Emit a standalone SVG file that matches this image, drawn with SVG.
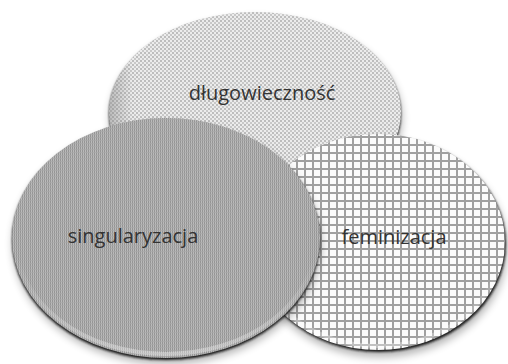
<svg xmlns="http://www.w3.org/2000/svg" width="508" height="364" viewBox="0 0 508 364">
  <defs>
    <!-- fill textures -->
    <pattern id="weave" width="4" height="4" patternUnits="userSpaceOnUse">
      <rect width="4" height="4" fill="#ececec"/>
      <rect x="0" y="0" width="2" height="2" fill="#bdbdbd"/>
      <rect x="2" y="2" width="2" height="2" fill="#c8c8c8"/>
    </pattern>
    <pattern id="stripes" width="2" height="3" patternUnits="userSpaceOnUse">
      <rect width="2" height="3" fill="#bababa"/>
      <rect x="0" y="0" width="1" height="3" fill="#959595"/>
      <rect x="0" y="2" width="2" height="1" fill="#a8a8a8" opacity="0.7"/>
    </pattern>
    <pattern id="grid" width="8" height="8" patternUnits="userSpaceOnUse">
      <rect width="8" height="8" fill="#fbfbfb"/>
      <rect x="0" y="0" width="8" height="2" fill="#a0a0a0"/>
      <rect x="0" y="0" width="2" height="8" fill="#a0a0a0"/>
    </pattern>
    <!-- bevel highlight along the lower rim -->
    <linearGradient id="rimLight" x1="0" y1="0" x2="0" y2="1">
      <stop offset="0.6" stop-color="#fff" stop-opacity="0"/>
      <stop offset="1" stop-color="#fff" stop-opacity="0.35"/>
    </linearGradient>
    <linearGradient id="edgeShade" x1="0" y1="0" x2="1" y2="0">
      <stop offset="0" stop-color="#888" stop-opacity="0.5"/>
      <stop offset="0.08" stop-color="#888" stop-opacity="0"/>
    </linearGradient>
    <filter id="shadow" x="-20%" y="-20%" width="140%" height="150%">
      <feGaussianBlur stdDeviation="4"/>
    </filter>
    <filter id="soft" x="-5%" y="-5%" width="110%" height="115%">
      <feGaussianBlur stdDeviation="0.8"/>
    </filter>
    <style>
      .label { font-family: "Open Sans", "Liberation Sans", sans-serif; font-size: 20px; fill: #333; text-anchor: middle; }
      .rim { fill: #1c1c1c; filter: url(#soft); }
      .drop { fill: #000; opacity: 0.3; filter: url(#shadow); }
      .glint { fill: none; stroke: url(#rimLight); stroke-width: 4; }
    </style>
  </defs>

  <!-- back ellipse -->
  <g id="dlugowiecznosc">
    <ellipse class="drop" cx="256" cy="118" rx="146" ry="100"/>
    <ellipse class="rim" cx="255" cy="114" rx="146" ry="100"/>
    <ellipse cx="255" cy="112" rx="146" ry="100" fill="url(#weave)"/>
    <ellipse cx="255" cy="112" rx="146" ry="100" fill="url(#edgeShade)"/>
    <text class="label" x="262" y="100">długowieczność</text>
  </g>

  <!-- right circle -->
  <g id="feminizacja">
    <ellipse class="drop" cx="380" cy="249" rx="127" ry="108"/>
    <ellipse class="rim" cx="379" cy="244" rx="127" ry="108"/>
    <ellipse cx="378" cy="242" rx="127" ry="108" fill="url(#grid)"/>
    <ellipse class="glint" cx="378" cy="241" rx="124" ry="105"/>
    <text class="label" x="394" y="244">feminizacja</text>
  </g>

  <!-- front circle -->
  <g id="singularyzacja">
    <ellipse class="drop" cx="167" cy="244" rx="154" ry="120"/>
    <ellipse class="rim" cx="166" cy="240" rx="154" ry="120"/>
    <ellipse cx="166" cy="238" rx="154" ry="120" fill="url(#stripes)"/>
    <ellipse class="glint" cx="166" cy="237" rx="151" ry="117"/>
    <text class="label" x="133" y="243">singularyzacja</text>
  </g>

  <g id="connectors"/>
</svg>
